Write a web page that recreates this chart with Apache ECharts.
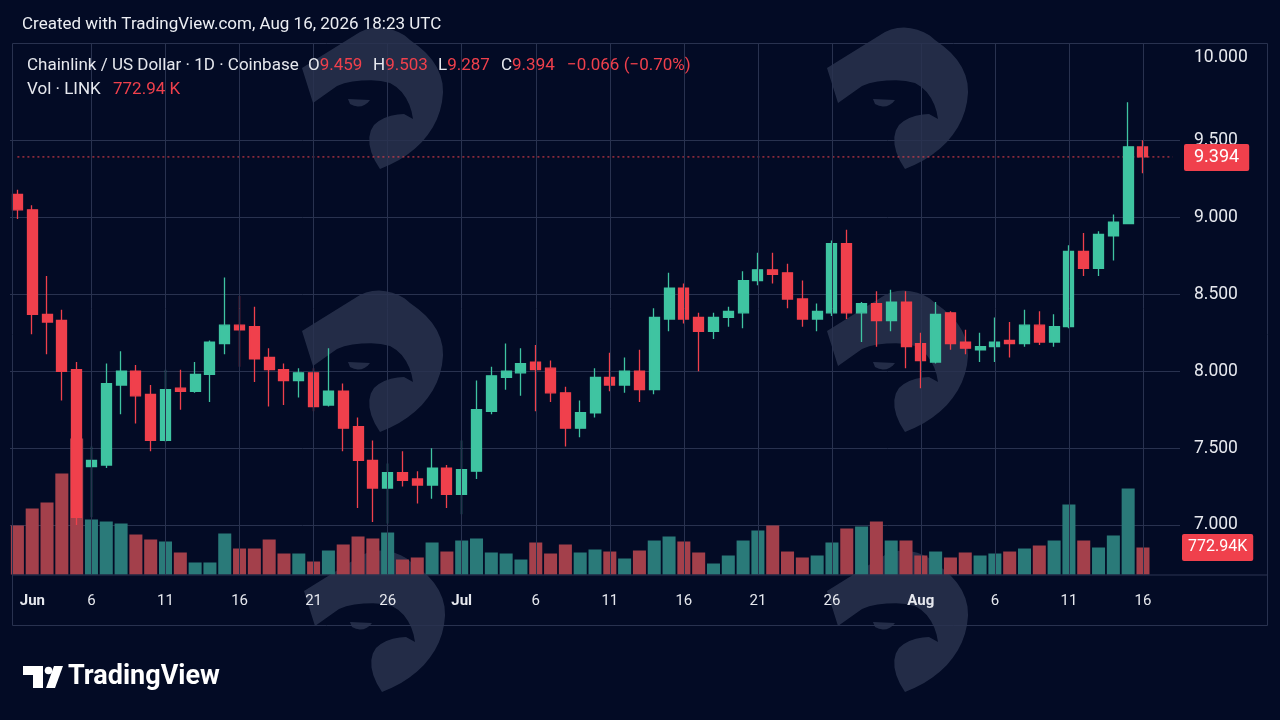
<!DOCTYPE html>
<html>
<head>
<meta charset="utf-8">
<script src="https://cdn.jsdelivr.net/npm/echarts@6/dist/echarts.min.js"></script>
<style>
html,body{margin:0;padding:0;background:#030b25;}
#c{width:1280px;height:720px;}
</style>
</head>
<body>
<div id="c"></div>
<script>
// ---------- data ----------
const dates = [
'2026-06-01','2026-06-02','2026-06-03','2026-06-04','2026-06-05','2026-06-06','2026-06-07','2026-06-08','2026-06-09','2026-06-10',
'2026-06-11','2026-06-12','2026-06-13','2026-06-14','2026-06-15','2026-06-16','2026-06-17','2026-06-18','2026-06-19','2026-06-20',
'2026-06-21','2026-06-22','2026-06-23','2026-06-24','2026-06-25','2026-06-26','2026-06-27','2026-06-28','2026-06-29','2026-06-30',
'2026-07-01','2026-07-02','2026-07-03','2026-07-04','2026-07-05','2026-07-06','2026-07-07','2026-07-08','2026-07-09','2026-07-10',
'2026-07-11','2026-07-12','2026-07-13','2026-07-14','2026-07-15','2026-07-16','2026-07-17','2026-07-18','2026-07-19','2026-07-20',
'2026-07-21','2026-07-22','2026-07-23','2026-07-24','2026-07-25','2026-07-26','2026-07-27','2026-07-28','2026-07-29','2026-07-30',
'2026-07-31','2026-08-01','2026-08-02','2026-08-03','2026-08-04','2026-08-05','2026-08-06','2026-08-07','2026-08-08','2026-08-09',
'2026-08-10','2026-08-11','2026-08-12','2026-08-13','2026-08-14','2026-08-15','2026-08-16'
];
const openP = [
9.15,9.05,8.37,8.33,8.01,7.38,7.39,7.91,8.00,7.85,
7.55,7.89,7.87,7.98,8.18,8.30,8.29,8.09,8.01,7.94,
7.99,7.78,7.87,7.64,7.42,7.24,7.34,7.30,7.26,7.37,
7.20,7.35,7.74,7.96,7.99,8.06,8.02,7.86,7.63,7.73,
7.96,7.91,8.00,7.88,8.34,8.54,8.35,8.26,8.35,8.38,
8.59,8.66,8.64,8.47,8.34,8.38,8.83,8.38,8.44,8.33,
8.45,8.18,8.06,8.38,8.19,8.14,8.16,8.20,8.18,8.30,
8.19,8.29,8.78,8.67,8.88,8.96,9.459
];
const closeP = [
9.05,8.37,8.32,8.00,7.05,7.42,7.92,8.00,7.84,7.55,
7.88,7.87,7.98,8.19,8.30,8.27,8.08,8.01,7.94,7.99,
7.77,7.87,7.63,7.42,7.24,7.34,7.29,7.26,7.37,7.20,
7.36,7.75,7.97,8.00,8.05,8.01,7.86,7.63,7.73,7.96,
7.91,8.00,7.88,8.35,8.54,8.34,8.26,8.35,8.39,8.59,
8.66,8.63,8.47,8.34,8.39,8.83,8.38,8.44,8.33,8.45,
8.16,8.07,8.37,8.18,8.15,8.16,8.19,8.18,8.30,8.19,
8.29,8.78,8.67,8.89,8.97,9.46,9.394
];
const highP = [
9.18,9.08,8.62,8.40,8.06,7.51,8.05,8.13,8.04,7.91,
8.01,8.01,8.06,8.20,8.61,8.49,8.42,8.15,8.05,8.02,
8.02,8.15,7.92,7.70,7.55,7.40,7.48,7.35,7.50,7.39,
7.55,7.94,8.03,8.18,8.15,8.17,8.07,7.90,7.81,8.02,
8.12,8.09,8.14,8.41,8.64,8.57,8.38,8.38,8.42,8.65,
8.77,8.77,8.70,8.59,8.44,8.85,8.92,8.45,8.52,8.53,
8.52,8.25,8.45,8.39,8.27,8.25,8.35,8.32,8.40,8.39,
8.37,8.82,8.90,8.91,9.02,9.75,9.503
];
const lowP = [
8.99,8.24,8.11,7.81,7.00,7.05,7.37,7.72,7.66,7.48,
7.54,7.75,7.86,7.80,8.11,8.03,7.93,7.77,7.78,7.83,
7.74,7.77,7.48,7.11,7.02,7.01,7.25,7.14,7.17,7.11,
7.07,7.30,7.72,7.88,7.84,7.74,7.80,7.51,7.57,7.70,
7.87,7.86,7.80,7.85,8.26,8.31,8.00,8.21,8.29,8.28,
8.56,8.57,8.41,8.29,8.26,8.36,8.34,8.19,8.16,8.26,
8.02,7.89,8.05,8.14,8.11,8.06,8.06,8.09,8.16,8.17,
8.16,8.28,8.62,8.62,8.72,8.96,9.287
];
// volume in thousands of LINK
const volumeK = [
1403,1890,2061,2892,3894,1575,1517,1460,1145,1002,
945,630,344,344,1174,744,744,1002,601,601,
372,687,859,1088,1031,1202,429,487,916,658,
973,1031,630,601,429,916,601,859,630,716,
658,458,687,973,1088,945,630,315,544,973,
1260,1403,658,487,544,916,1317,1374,1517,973,
973,544,658,487,630,544,601,658,744,830,
973,2004,973,773,1117,2462,772.94
];
const tickIdx  = [0,5,10,15,20,25,30,35,40,45,50,55,61,66,71,76];
const tickText = ['Jun','6','11','16','21','26','Jul','6','11','16','21','26','Aug','6','11','16'];
const priceTicks = [7.0,7.5,8.0,8.5,9.0,9.5,10.0];

// ---------- style ----------
const BG = '#030b25';
const UP = '#3fc4a1', DOWN = '#f0404c';
const VUP = '#2a7a79', VDOWN = '#a3404b';
const GRIDC = '#29324f';
const TXT = '#e6e8ee';
const FONT = 'Roboto, "Liberation Sans", sans-serif';
const CLEAR = 'rgba(0,0,0,0)';

const cats = dates.concat(['', '']);
const n = dates.length;
const last = n - 1;
const lastO = openP[last], lastH = highP[last], lastL = lowP[last], lastC = closeP[last];
const chg = lastC - closeP[last - 1];
const pct = chg / closeP[last - 1] * 100;
const fmtChg = (v, d) => (v < 0 ? '\u2212' : '+') + Math.abs(v).toFixed(d);
const lastVol = volumeK[last];
const lastColor = lastC >= lastO ? UP : DOWN;

const candleData = dates.map((d, i) => [openP[i], closeP[i], lowP[i], highP[i]]);
const volData = volumeK.map((v, i) => ({
  value: v,
  itemStyle: { color: closeP[i] >= openP[i] ? VUP : VDOWN }
}));

// ---------- watermark (decorative shape, sampled cubic curves) ----------
function bez(p0, c1, c2, p1, steps) {
  const pts = [];
  for (let k = 1; k <= steps; k++) {
    const t = k / steps, u = 1 - t;
    pts.push([
      u*u*u*p0[0] + 3*u*u*t*c1[0] + 3*u*t*t*c2[0] + t*t*t*p1[0],
      u*u*u*p0[1] + 3*u*u*t*c1[1] + 3*u*t*t*c2[1] + t*t*t*p1[1]
    ]);
  }
  return pts;
}
const markPts = [[2,38],[60,2]]
  .concat(bez([60,2],[75,-6],[97,-3],[110,10],8))
  .concat(bez([110,10],[134,26],[147,46],[142,72],8))
  .concat(bez([142,72],[137,102],[114,126],[80,139],10))
  .concat(bez([80,139],[68,122],[66,105],[74,95],6))
  .concat(bez([74,95],[80,88],[94,84],[104,84],5))
  .concat([[113,89]])
  .concat(bez([113,89],[111,74],[104,60],[90,53],6))
  .concat(bez([90,53],[72,48],[50,50],[37,56],6))
  .concat([[13,73]]);
const eyePts = [[48,69],[70,70]]
  .concat(bez([70,70],[66,76],[58,79],[50,74],6));
function watermark(x0, y0) {
  const fill = 'rgba(165,180,210,0.2)';
  return {
    type: 'group', x: x0, y: y0, z: 100, silent: true,
    children: [
      { type: 'polygon', shape: { points: markPts }, style: { fill: fill } },
      { type: 'polygon', shape: { points: eyePts }, style: { fill: fill } }
    ]
  };
}

const chart = echarts.init(document.getElementById('c'), null, { renderer: 'canvas' });

const hdr = (x, y, text, fill) => ({
  type: 'text', z: 110, silent: true,
  style: { x: x, y: y, text: text, fill: fill, fontSize: 17, fontFamily: FONT, verticalAlign: 'middle' }
});
const ohlc = (x, letter, val) => ({
  type: 'text', z: 110, silent: true,
  style: {
    x: x, y: 66, text: '{w|' + letter + '}{r|' + val.toFixed(3) + '}', fontSize: 17, fontFamily: FONT, verticalAlign: 'middle',
    rich: { w: { fill: TXT, fontSize: 17, fontFamily: FONT }, r: { fill: DOWN, fontSize: 17, fontFamily: FONT } }
  }
});

const option = {
  backgroundColor: BG,
  animation: false,
  textStyle: { fontFamily: FONT },
  grid: [
    { left: 10, width: 1170, top: 63.75, height: 538.125 },  // price (6.5 .. 10)
    { left: 10, width: 1170, top: 43, height: 531.5 }        // volume / time axis
  ],
  xAxis: [
    { type: 'category', gridIndex: 0, data: cats, boundaryGap: true, show: false },
    {
      type: 'category', gridIndex: 1, data: cats, boundaryGap: true,
      axisLine: { show: false }, axisTick: { show: false }, splitLine: { show: false },
      axisLabel: {
        color: TXT, fontSize: 15, margin: 19, fontFamily: FONT,
        interval: (idx) => tickIdx.indexOf(idx) >= 0,
        formatter: (val, idx) => {
          const k = tickIdx.indexOf(idx);
          if (k < 0) return '';
          const t = tickText[k];
          if (k === 0) return '{first|' + t + '}';
          if (isNaN(Number(t))) return '{mon|' + t + '}';
          return t;
        },
        rich: {
          first: { fontWeight: 'bold', fontSize: 15, color: TXT, padding: [0, 0, 0, 30], fontFamily: FONT },
          mon: { fontWeight: 'bold', fontSize: 15, color: TXT, fontFamily: FONT }
        }
      }
    }
  ],
  yAxis: [
    {
      type: 'value', gridIndex: 0, position: 'right', min: 6.5, max: 10, interval: 0.5,
      axisLine: { show: false }, axisTick: { show: false },
      splitLine: { show: true, lineStyle: { width: 1, color: [CLEAR, GRIDC, GRIDC, GRIDC, GRIDC, GRIDC, GRIDC, CLEAR] } },
      axisLabel: {
        color: TXT, fontSize: 17.5, margin: 14, fontFamily: FONT,
        formatter: (v) => {
          if (priceTicks.indexOf(v) < 0) return '';
          if (v === 10) return '{up|' + v.toFixed(3) + '}';
          return v.toFixed(3);
        },
        rich: { up: { fontSize: 17.5, color: TXT, padding: [0, 0, 13, 0], fontFamily: FONT } }
      }
    },
    { type: 'value', gridIndex: 1, min: 0, max: 15215, show: false, splitLine: { show: false } }
  ],
  series: [
    {
      name: 'grid', type: 'line', xAxisIndex: 1, yAxisIndex: 1, z: 1, silent: true,
      data: cats.map(() => null), showSymbol: false, lineStyle: { opacity: 0 },
      markLine: {
        silent: true, animation: false, symbol: ['none', 'none'],
        label: { show: false },
        lineStyle: { color: GRIDC, type: 'solid', width: 1 },
        data: tickIdx.filter(i => i > 0).map(i => ({ xAxis: cats[i] }))
      }
    },
    {
      name: 'Vol', type: 'bar', xAxisIndex: 1, yAxisIndex: 1, z: 2,
      data: volData, barWidth: '88%', silent: true,
      markLine: {
        silent: true, animation: false, symbol: ['none', 'none'],
        lineStyle: { color: CLEAR, width: 0 },
        label: {
          show: true, position: 'end', distance: 2,
          formatter: () => lastVol.toFixed(2) + 'K',
          color: '#ffffff', fontSize: 16, fontFamily: FONT,
          backgroundColor: lastColor,
          padding: [8, 6, 3, 6], borderRadius: 2
        },
        data: [{ yAxis: lastVol }]
      }
    },
    {
      // last-price dotted line
      name: 'last', type: 'line', xAxisIndex: 0, yAxisIndex: 0, z: 2, silent: true,
      data: cats.map(() => lastC), symbol: 'none', showSymbol: false,
      lineStyle: { color: lastColor, type: [2, 3], width: 1 }
    },
    {
      name: 'LINKUSD', type: 'candlestick', xAxisIndex: 0, yAxisIndex: 0, z: 3,
      data: candleData, barWidth: 10.5, silent: true,
      itemStyle: { color: UP, color0: DOWN, borderColor: UP, borderColor0: DOWN, borderWidth: 1.3 },
      markLine: {
        silent: true, animation: false, symbol: ['none', 'none'],
        lineStyle: { color: CLEAR, width: 0 },
        label: {
          show: true, position: 'end', distance: 4,
          formatter: () => lastC.toFixed(3),
          color: '#ffffff', fontSize: 18, fontFamily: FONT,
          backgroundColor: lastColor, padding: [5, 10, 4, 10], borderRadius: 2
        },
        data: [{ yAxis: lastC }]
      }
    }
  ],
  graphic: [
    // pane border and time-axis separator
    { type: 'rect', z: 5, silent: true, shape: { x: 12.5, y: 43.5, width: 1255, height: 582 }, style: { fill: null, stroke: GRIDC, lineWidth: 1 } },
    { type: 'line', z: 5, silent: true, shape: { x1: 12.5, y1: 575, x2: 1267.5, y2: 575 }, style: { stroke: '#2c3552', lineWidth: 1 } },
    // header
    hdr(22, 25, 'Created with TradingView.com, Aug 16, 2026 18:23 UTC', '#eceef3'),
    hdr(27, 66, 'Chainlink / US Dollar \u00b7 1D \u00b7 Coinbase', TXT),
    ohlc(308, 'O', lastO),
    ohlc(373, 'H', lastH),
    ohlc(438, 'L', lastL),
    ohlc(501, 'C', lastC),
    hdr(567, 66, fmtChg(chg, 3) + ' (' + fmtChg(pct, 2) + '%)', DOWN),
    hdr(27, 90, 'Vol \u00b7 LINK', TXT),
    hdr(113, 90, lastVol.toFixed(2) + ' K', DOWN),
    // watermarks
    watermark(300, 30), watermark(825, 30),
    watermark(300, 293), watermark(825, 293),
    watermark(302, 553), watermark(825, 553),
    // TradingView logo
    { type: 'group', z: 110, silent: true, children: [
      { type: 'rect', shape: { x: 23, y: 666, width: 20, height: 9 }, style: { fill: '#ffffff' } },
      { type: 'rect', shape: { x: 33, y: 666, width: 10, height: 22 }, style: { fill: '#ffffff' } },
      { type: 'circle', shape: { cx: 48.5, cy: 670.5, r: 3.8 }, style: { fill: '#ffffff' } },
      { type: 'polygon', shape: { points: [[54, 666], [63, 666], [55, 688], [46, 688]] }, style: { fill: '#ffffff' } },
      { type: 'text', style: { x: 68, y: 677, text: 'TradingView', fill: '#ffffff', fontSize: 27, fontWeight: 'bold', fontFamily: FONT, verticalAlign: 'middle' } }
    ] }
  ]
};

chart.setOption(option);
</script>
</body>
</html>
